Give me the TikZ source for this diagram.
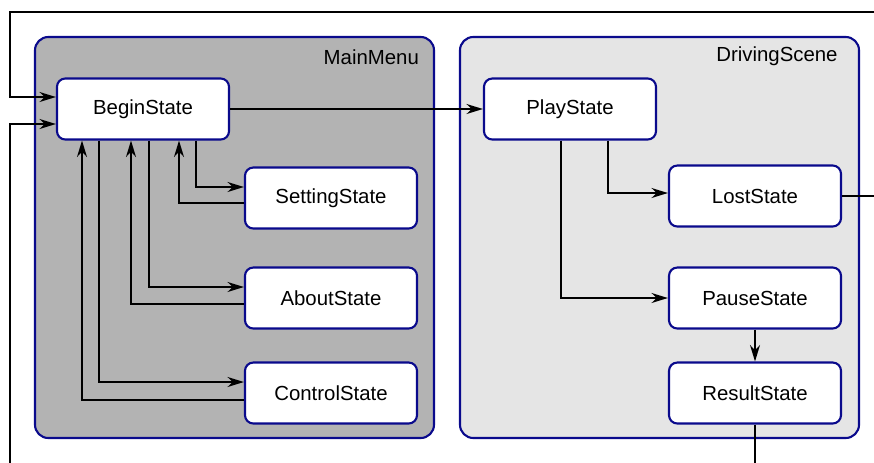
\documentclass[tikz,border=0pt]{standalone}
\usepackage{fontspec}
\setmainfont{Liberation Sans}
\usetikzlibrary{positioning,arrows.meta}

\definecolor{boxblue}{RGB}{10,10,140}
\definecolor{menugray}{RGB}{179,179,179}
\definecolor{scenegray}{RGB}{229,229,229}

\begin{document}
\begin{tikzpicture}[x=0.03cm, y=-0.03cm, every node/.style={font=\fontsize{17.4}{20}\selectfont}]
    \tikzset{
        groupbox/.style = {rectangle, rounded corners=0.4cm, line width=1.8pt, minimum width=11.97cm, minimum height=12.03cm, draw=boxblue},
        statebox/.style = {rectangle, rounded corners=0.25cm, line width=1.8pt, minimum width=5.16cm, minimum height=1.83cm, text centered, draw=boxblue, fill=white},
        arrow/.style = {line width=1.7pt, -{Stealth[length=14pt, width=8.5pt, inset=4.5pt]}},
    }
    \useasboundingbox (0,0) rectangle (874,462);
    \clip (0,0) rectangle (874,462);

    % groups
    \node (mainmenu) [groupbox, fill=menugray] at (234.5,237.5) {};
    \node (drivingscene) [groupbox, fill=scenegray] at (659.5,237.5) {};
    \node (mainmenu_label) [anchor=east] at ([xshift=-0.36cm, yshift=-0.63cm]mainmenu.north east) {MainMenu};
    \node (drivingscene_label) [anchor=east] at ([xshift=-0.55cm, yshift=-0.6cm]drivingscene.north east) {DrivingScene};

    % states
    \node (begin) [statebox] at (143,109) {BeginState};
    \node (setting) [statebox] at (331,198) {SettingState};
    \node (about) [statebox] at (331,298) {AboutState};
    \node (control) [statebox] at (331,393) {ControlState};
    \node (play) [statebox] at (570,109) {PlayState};
    \node (lost) [statebox] at (755,196) {LostState};
    \node (pause) [statebox] at (755,298) {PauseState};
    \node (result) [statebox] at (755,393) {ResultState};

    \draw [arrow] (begin) -- (play);

    \draw [arrow] ([xshift=1.59cm]begin.south) |- ([yshift=0.33cm]setting.west);
    \draw [arrow] ([yshift=-0.15cm]setting.west) -| ([xshift=1.08cm]begin.south);
    \draw [arrow] ([xshift=0.18cm]begin.south) |- ([yshift=0.33cm]about.west);
    \draw [arrow] ([yshift=-0.18cm]about.west) -| ([xshift=-0.36cm]begin.south);
    \draw [arrow] ([xshift=-1.32cm]begin.south) |- ([yshift=0.33cm]control.west);
    \draw [arrow] ([yshift=-0.21cm]control.west) -| ([xshift=-1.83cm]begin.south);

    \draw [arrow] ([xshift=1.14cm]play.south) |- ([yshift=0.09cm]lost.west);
    \draw [arrow] ([xshift=-0.27cm]play.south) |- (pause.west);
    \draw [arrow] (pause) -- (result);

    % loops back to BeginState
    \coordinate (top_right) at (900,12);
    \coordinate (top_left) at (10,12);
    \coordinate (bottom_left) at (10,490);
    \draw [arrow] (lost.east) -| (top_right) -- (top_left) |- ([yshift=0.36cm]begin.west);
    \draw [arrow] (result.south) |- (bottom_left) |- ([yshift=-0.45cm]begin.west);
\end{tikzpicture}
\end{document}
